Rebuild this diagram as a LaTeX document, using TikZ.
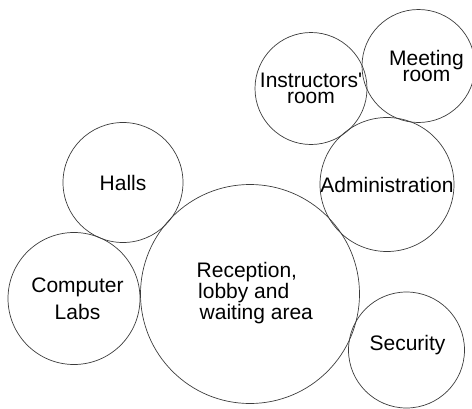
\documentclass[tikz,border=0pt]{standalone}
\usepackage{fontspec}
\setmainfont{Liberation Sans}
\usetikzlibrary{positioning}
\definecolor{rimgray}{RGB}{60,60,60}
\tikzset{
  room/.style={circle,draw=rimgray,line width=0.7pt,inner sep=0pt,
               minimum size=#1,font=\fontsize{21}{16}\selectfont,align=center},
  roomtext/.style={inner sep=0pt,font=\fontsize{21}{16}\selectfont,align=center}
}

\begin{document}
\begin{tikzpicture}[x=1pt,y=-1pt]
  \useasboundingbox (0,0) rectangle (472,408);
  % rooms
  \node[room=219pt] (reception) at (250,294) {};
  \node[room=120pt] (halls) at (123,182.5) {Halls};
  \node[room=132pt,font=\fontsize{21}{27}\selectfont] (labs) at (74,298.5) {\hspace*{7pt}Computer\\\hspace*{7pt}Labs};
  \node[room=112pt] (instructors) at (311,88.5) {Instructors\textquotesingle\\room};
  \node[room=113pt] (meeting) at (418.5,66) {};
  \node[room=134pt] (admin) at (387,184.5) {Administration};
  \node[room=116pt] (security) at (406.5,350) {};
  % labels off centre
  \node[roomtext,align=left,anchor=west,font=\fontsize{21}{18.5}\selectfont] (receptionlabel)
    at (196.5,293) {Reception,\\\hspace*{1.5pt}lobby and\\\hspace*{3pt}waiting area};
  \node[roomtext] (meetinglabel) at (426.5,66) {Meeting\\room};
  \node[roomtext] (securitylabel) at (407.5,345) {Security};
\end{tikzpicture}
\end{document}
